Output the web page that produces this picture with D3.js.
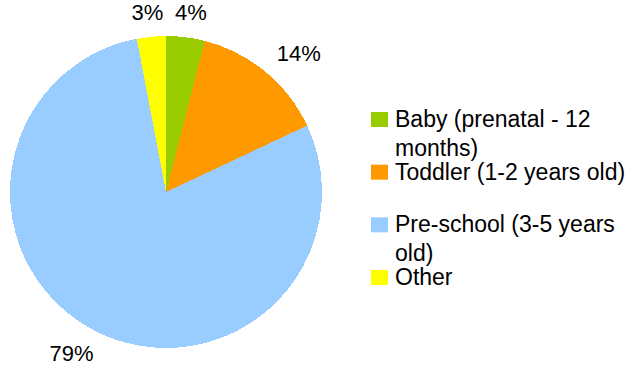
<!DOCTYPE html>
<html>
<head>
<meta charset="utf-8">
<script src="https://cdn.jsdelivr.net/npm/d3@7"></script>
<style>
  html, body { margin: 0; padding: 0; background: #fff; }
  svg { display: block; font-family: Arial, "Liberation Sans", sans-serif; }
</style>
</head>
<body>
<svg id="chart" width="631" height="367"></svg>
<script>
// Age groups and their share of responses (percent)
const categories = ["Baby (prenatal - 12 months)", "Toddler (1-2 years old)", "Pre-school (3-5 years old)", "Other"];
const shares = [4, 14, 79, 3];
const labels = ["4%", "14%", "79%", "3%"];
const colors = ["#99CC00", "#FF9900", "#99CCFF", "#FFFF00"];

const svg = d3.select("#chart");

const cx = 166, cy = 192, radius = 156;

const data = categories.map((c, i) => ({ name: c, value: shares[i], label: labels[i], color: colors[i] }));

// Slices run clockwise from 12 o'clock in category order
const pie = d3.pie().value(d => d.value).sort(null);
const arcs = pie(data);
const arc = d3.arc().innerRadius(0).outerRadius(radius);

const g = svg.append("g").attr("transform", `translate(${cx},${cy})`);

g.selectAll("path.slice")
  .data(arcs)
  .join("path")
  .attr("class", "slice")
  .attr("d", arc)
  .attr("fill", d => d.data.color)
  .attr("shape-rendering", "crispEdges");

// Percentage labels outside each slice: the text box is pushed out along the mid-angle
const labelR = 173;
const lbl = g.selectAll("text.pct")
  .data(arcs)
  .join("text")
  .attr("class", "pct")
  .attr("font-size", 22)
  .attr("fill", "#000")
  .attr("text-anchor", "middle")
  .text(d => d.data.label);

lbl.each(function(d) {
  const a = (d.startAngle + d.endAngle) / 2;
  const s = Math.sin(a), c = -Math.cos(a);
  const w = this.getComputedTextLength();
  const hw = w / 2, hh = 8;
  const x = labelR * s + 1.6 * hw * s;
  const yMid = labelR * c + hh * c;
  d3.select(this).attr("x", x).attr("y", yMid + hh);
});

// Legend
const legendX = 371, textX = 395;
const legendY = d3.scalePoint().domain(categories).range([127, 285]);
const wrapWidth = 240;
const lineGap = 29;

const leg = svg.append("g").attr("class", "legend");
const items = leg.selectAll("g.item").data(data).join("g").attr("class", "item");

items.append("rect")
  .attr("x", legendX)
  .attr("y", d => legendY(d.name) - 15)
  .attr("width", 17)
  .attr("height", 15)
  .attr("fill", d => d.color);

items.each(function(d) {
  const t = d3.select(this).append("text")
    .attr("x", textX)
    .attr("y", legendY(d.name))
    .attr("font-size", 23)
    .attr("fill", "#000");
  const words = d.name.split(" ");
  let line = [];
  let tspan = t.append("tspan").attr("x", textX).attr("dy", 0);
  words.forEach(word => {
    line.push(word);
    tspan.text(line.join(" "));
    if (tspan.node().getComputedTextLength() > wrapWidth && line.length > 1) {
      line.pop();
      tspan.text(line.join(" "));
      line = [word];
      tspan = t.append("tspan").attr("x", textX).attr("dy", lineGap).text(word);
    }
  });
});
</script>
</body>
</html>
